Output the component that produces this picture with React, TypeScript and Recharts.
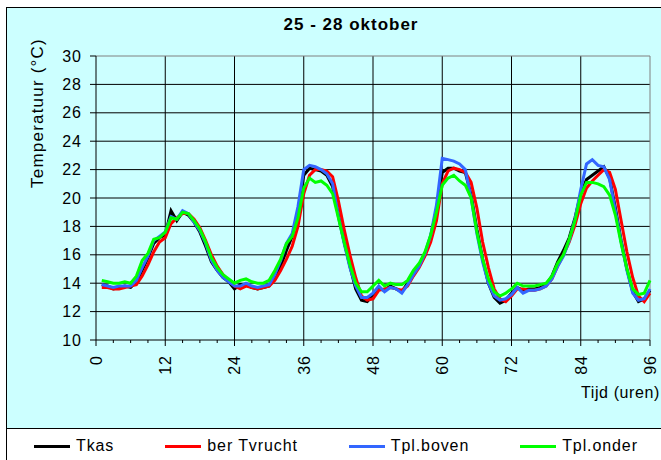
import React from "react";
import {CartesianGrid, Label, Legend, Line, LineChart, ReferenceLine, XAxis, YAxis} from "recharts";

const FONT = "'Liberation Sans', Arial, sans-serif";

// uren (x-as)
const hours = [
    1, 2, 3, 4, 5, 6, 7, 8, 9, 10, 11, 12, 13, 14, 15, 16, 17, 18, 19, 20, 21, 22, 23, 24,
    25, 26, 27, 28, 29, 30, 31, 32, 33, 34, 35, 36, 37, 38, 39, 40, 41, 42, 43, 44, 45, 46, 47, 48,
    49, 50, 51, 52, 53, 54, 55, 56, 57, 58, 59, 60, 61, 62, 63, 64, 65, 66, 67, 68, 69, 70, 71, 72,
    73, 74, 75, 76, 77, 78, 79, 80, 81, 82, 83, 84, 85, 86, 87, 88, 89, 90, 91, 92, 93, 94, 95, 96,
];

const tkas = [
    13.9, 13.8, 13.6, 13.7, 13.8, 13.7, 14.1, 14.9, 15.8, 16.8, 17.2, 17.4, 19.1, 18.4, 19.0, 18.8, 18.3, 17.6, 16.6, 15.5, 14.9, 14.4, 14.1, 13.6,
    13.9, 13.9, 13.7, 13.6, 13.7, 13.8, 14.5, 15.2, 16.3, 17.3, 19.0, 21.6, 22.1, 22.0, 21.9, 21.6, 20.8, 18.8, 16.9, 15.2, 13.6, 12.8, 12.7, 13.2,
    13.6, 13.5, 13.8, 13.6, 13.4, 14.0, 14.7, 15.3, 16.0, 17.3, 19.2, 21.8, 22.1, 22.1, 21.9, 21.8, 20.2, 17.8, 15.7, 14.0, 13.0, 12.6, 12.8, 13.3,
    13.7, 13.5, 13.6, 13.6, 13.7, 13.9, 14.5, 15.5, 16.3, 17.2, 18.6, 20.3, 21.3, 21.6, 21.9, 22.2, 21.4, 19.3, 17.0, 15.0, 13.4, 12.7, 12.9, 13.5,
];

const berTvrucht = [
    13.7, 13.7, 13.6, 13.6, 13.7, 13.8, 13.9, 14.5, 15.3, 16.2, 16.9, 17.2, 18.2, 18.6, 18.9, 18.9, 18.5, 17.9, 17.0, 16.0, 15.2, 14.6, 14.2, 13.8,
    13.6, 13.8, 13.7, 13.6, 13.7, 13.8, 14.2, 14.9, 15.7, 16.6, 18.0, 20.3, 21.6, 22.0, 22.0, 21.9, 21.5, 19.8, 17.8, 16.0, 14.4, 13.1, 12.8, 12.9,
    13.5, 13.6, 13.7, 13.6, 13.5, 13.8, 14.5, 15.1, 15.9, 16.9, 18.4, 21.0, 21.9, 22.1, 22.0, 21.8, 21.1, 19.3, 16.9, 15.1, 13.6, 12.9, 12.7, 13.1,
    13.6, 13.6, 13.5, 13.5, 13.6, 13.8, 14.3, 15.2, 16.0, 16.9, 18.1, 19.6, 20.7, 21.2, 21.6, 22.0, 21.8, 20.6, 18.4, 16.2, 14.4, 13.1, 12.7, 13.3,
];

const tplBoven = [
    13.9, 13.8, 13.7, 13.8, 13.8, 13.8, 14.2, 15.1, 15.9, 17.0, 17.3, 17.6, 18.7, 18.5, 19.1, 18.9, 18.3, 17.7, 16.8, 15.6, 14.9, 14.4, 14.1, 13.8,
    13.8, 14.0, 13.8, 13.7, 13.8, 13.9, 14.6, 15.6, 16.8, 17.5, 19.4, 22.0, 22.3, 22.2, 22.0, 21.7, 21.0, 18.7, 16.8, 15.1, 13.8, 13.0, 13.0, 13.3,
    13.8, 13.4, 13.7, 13.6, 13.3, 13.9, 14.6, 15.2, 16.1, 17.4, 19.5, 22.8, 22.7, 22.6, 22.4, 22.0, 20.0, 17.5, 15.5, 14.0, 13.1, 12.8, 12.9, 13.2,
    13.7, 13.3, 13.5, 13.5, 13.6, 13.8, 14.3, 15.2, 15.9, 17.0, 18.5, 20.6, 22.4, 22.7, 22.3, 22.2, 21.3, 19.1, 16.9, 14.9, 13.3, 12.8, 12.9, 13.6,
];

const tplOnder = [
    14.2, 14.1, 14.0, 14.0, 14.1, 14.0, 14.5, 15.6, 16.1, 17.1, 17.2, 17.6, 18.6, 18.5, 19.0, 18.9, 18.4, 17.8, 16.9, 15.8, 15.1, 14.6, 14.3, 14.0,
    14.2, 14.3, 14.1, 14.0, 14.0, 14.2, 14.9, 15.7, 16.8, 17.3, 18.6, 20.7, 21.4, 21.1, 21.2, 20.9, 20.3, 18.6, 16.9, 15.3, 14.0, 13.4, 13.4, 13.8,
    14.2, 13.8, 14.0, 13.9, 13.9, 14.2, 14.9, 15.4, 16.2, 17.4, 19.0, 20.9, 21.4, 21.6, 21.2, 20.9, 20.0, 17.6, 15.7, 14.3, 13.4, 13.1, 13.3, 13.6,
    14.0, 13.8, 13.8, 13.8, 13.9, 14.0, 14.5, 15.4, 16.0, 17.1, 18.4, 20.2, 21.1, 21.1, 21.0, 20.8, 20.2, 18.8, 16.8, 15.0, 13.6, 13.2, 13.3, 14.2,
];

const xTicks = [0, 3, 6, 9, 12, 15, 18, 21, 24, 27, 30, 33, 36, 39, 42, 45, 48, 51, 54, 57, 60, 63, 66, 69, 72, 75, 78, 81, 84, 87, 90, 93, 96];
const xGrid = [12, 24, 36, 48, 60, 72, 84];
const yTicks = [10, 12, 14, 16, 18, 20, 22, 24, 26, 28, 30];
const yGrid = [12, 14, 16, 18, 20, 22, 24, 26, 28];

const series = [
    {key: 'tkas', name: 'Tkas', color: '#000000'},
    {key: 'berTvrucht', name: 'ber Tvrucht', color: '#FF0000'},
    {key: 'tplBoven', name: 'Tpl.boven', color: '#3366FF'},
    {key: 'tplOnder', name: 'Tpl.onder', color: '#00FF00'},
];

const data = hours.map((h, i) => ({
    h,
    tkas: tkas[i],
    berTvrucht: berTvrucht[i],
    tplBoven: tplBoven[i],
    tplOnder: tplOnder[i],
}));

const YTick = (props: any) => {
    const {x, y, payload} = props;
    return (
        <text x={x} y={y} textAnchor="end" dominantBaseline="central"
              fontSize={16} fontFamily={FONT} fill="#000" letterSpacing={1}>
            {payload.value}
        </text>
    );
};

const XTick = (props: any) => {
    const {x, y, payload} = props;
    const major = payload.value % 12 === 0;
    return (
        <g>
            <line x1={x} x2={x} y1={y} y2={y + (major ? 6 : 3)} stroke="#000"/>
            {major && (
                <text transform={`translate(${x},${y + 15}) rotate(-90)`} textAnchor="end" dy="0.36em"
                      fontSize={16} fontFamily={FONT} fill="#000" letterSpacing={1}>
                    {payload.value}
                </text>
            )}
        </g>
    );
};

const renderLegend = (props: any) => {
    const {payload} = props;
    return (
        <div style={{display: 'flex', alignItems: 'center', height: '100%', paddingLeft: 28, gap: 51}}>
            {payload.map((entry: any) => (
                <div key={entry.value} style={{display: 'flex', alignItems: 'center'}}>
                    <div style={{width: 36, height: 3, background: entry.color, marginRight: 6}}/>
                    <span style={{fontSize: 16, fontFamily: FONT, letterSpacing: 0.9, color: '#000'}}>{entry.value}</span>
                </div>
            ))}
        </div>
    );
};

const App = () => {
    return (
        <div style={{position: 'absolute', left: 0, top: 0, width: 661, height: 460, overflow: 'hidden', background: '#fff'}}>
            <div style={{position: 'absolute', left: 6, top: 7, width: 700, height: 420, background: '#CCFFFF', border: '1px solid #000'}}/>
            <div style={{position: 'absolute', left: 6, top: 428, width: 700, height: 60, background: '#fff', border: '1px solid #000'}}/>
            <div style={{
                position: 'absolute', left: 0, top: 16, width: 702, textAlign: 'center',
                fontFamily: FONT, fontSize: 17, fontWeight: 'bold', lineHeight: '17px', letterSpacing: 1,
            }}>
                25 - 28 oktober
            </div>
            <div style={{position: 'absolute', left: 0, top: 0}}>
                <LineChart width={661} height={460} data={data}
                           margin={{top: 56, right: 11, bottom: 60, left: 40}}>
                    <CartesianGrid stroke="#000" horizontalValues={yGrid} verticalValues={xGrid}/>
                    <ReferenceLine y={30} stroke="#808080"/>
                    <ReferenceLine x={96} stroke="#808080"/>
                    <XAxis dataKey="h" type="number" domain={[0, 96]} ticks={xTicks} interval={0}
                           height={60} tickSize={0} tickMargin={0} tickLine={false}
                           axisLine={{stroke: '#000'}} tick={<XTick/>}>
                        <Label content={(p: any) => {
                            const vb = p.viewBox;
                            return (
                                <text x={vb.x + vb.width - 69} y={vb.y + 58} fontSize={16} fontFamily={FONT}
                                      fill="#000" letterSpacing={0.6}>
                                    Tijd (uren)
                                </text>
                            );
                        }}/>
                    </XAxis>
                    <YAxis type="number" domain={[10, 30]} ticks={yTicks} interval={0} width={56}
                           tickSize={6} tickMargin={8} tickLine={{stroke: '#000'}}
                           axisLine={{stroke: '#000'}} tick={<YTick/>}>
                        <Label content={(p: any) => {
                            const vb = p.viewBox;
                            return (
                                <text transform={`translate(${vb.x - 3},${vb.y + 57}) rotate(-90)`}
                                      textAnchor="middle" dy="0.36em" fontSize={17} fontFamily={FONT}
                                      fill="#000" letterSpacing={1.2}>
                                    Temperatuur (°C)
                                </text>
                            );
                        }}/>
                    </YAxis>
                    <Legend layout="horizontal" verticalAlign="middle" align="center" content={renderLegend}
                            itemSorter={(item: any) => series.findIndex(s => s.key === item.dataKey)}
                            wrapperStyle={{left: 6, top: 429, width: 655, height: 34}}/>
                    {series.map(s => (
                        <Line key={s.key} type="linear" dataKey={s.key} name={s.name} stroke={s.color}
                              strokeWidth={3} dot={false} activeDot={false} isAnimationActive={false}/>
                    ))}
                </LineChart>
            </div>
        </div>
    );
};

export default App;
